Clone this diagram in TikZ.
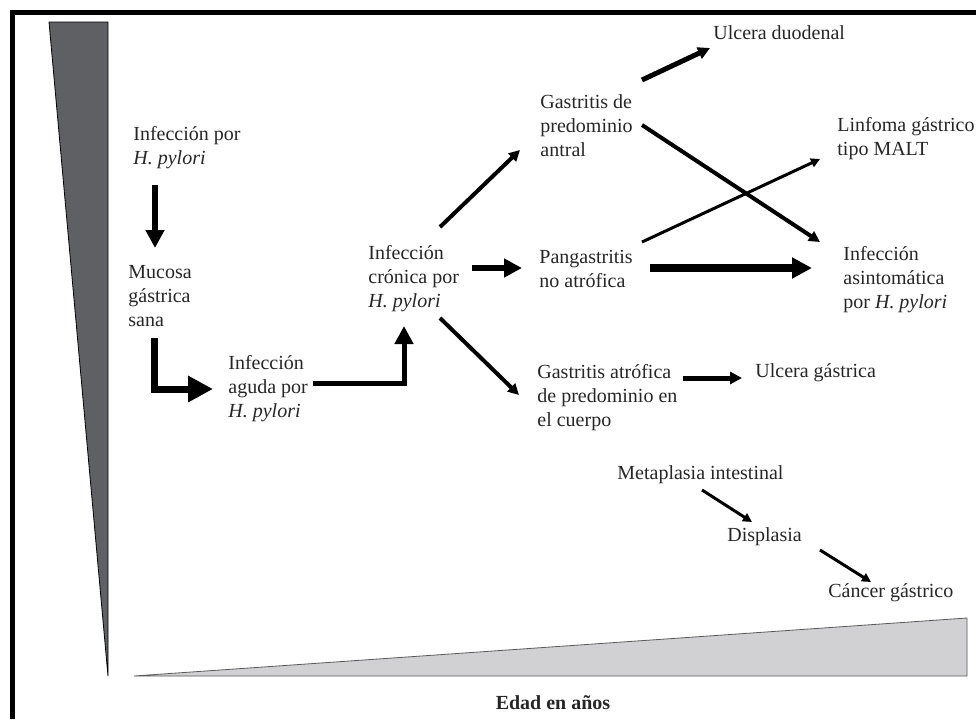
\documentclass[tikz,border=0pt]{standalone}
\usepackage{fontspec}
\setmainfont{Liberation Serif}
\usepackage{tikz}
\usetikzlibrary{positioning}
\usetikzlibrary{arrows.meta}
\definecolor{oscuro}{RGB}{95,96,100}
\definecolor{claro}{RGB}{209,209,211}

\begin{document}
\begin{tikzpicture}[x=0.5pt,y=-0.5pt,
  txt/.style={align=left, anchor=west, inner sep=0pt, text=black!85, font=\fontsize{10}{12}\selectfont},
  fina/.style={line width=1.5pt, -{Triangle[length=4.5pt,width=4.5pt]}},
  media/.style={line width=2pt, -{Triangle[length=5.5pt,width=5.5pt]}},
  gruesa/.style={line width=3pt, -{Triangle[length=9pt,width=9pt]}},
  muygruesa/.style={line width=4pt, -{Triangle[length=10pt,width=10pt]}}]
\useasboundingbox (0,0) rectangle (976,719);
%marco
\draw[line width=2.5pt] (12.5,719) -- (12.5,12) -- (976,12);
\draw[fill=oscuro, thin] (49,22) -- (108,22) -- (108,676) -- cycle;
\draw[fill=claro, draw=black!65, thin] (134,676) -- (967,618) -- (967,676) -- cycle;
\node[txt, anchor=center, font=\fontsize{10}{12}\selectfont\bfseries] (edad) at (553,703) {Edad en años};

\node[txt] (infeccion) at (133,148) {Infección por\\\textit{H. pylori}};
\node[txt] (mucosa) at (128,296) {Mucosa\\gástrica\\sana};
\node[txt] (aguda) at (228,389) {Infección\\aguda por\\\textit{H. pylori}};
\node[txt] (cronica) at (368,279) {Infección\\crónica por\\\textit{H. pylori}};
\node[txt] (antral) at (540,126) {Gastritis de\\predominio\\antral};
\node[txt] (pangas) at (539,269) {Pangastritis\\no atrófica};
\node[txt] (atrofica) at (537,398) {Gastritis atrófica\\de predominio en\\el cuerpo};
\node[txt] (duodenal) at (713,33) {Ulcera duodenal};
\node[txt] (linfoma) at (837,139) {Linfoma gástrico\\tipo MALT};
\node[txt] (asint) at (843,280) {Infección\\asintomática\\por \textit{H. pylori}};
\node[txt] (ugastrica) at (755,373) {Ulcera gástrica};
\node[txt] (metaplasia) at (617,475) {Metaplasia intestinal};
\node[txt] (displasia) at (727,537) {Displasia};
\node[txt] (cancer) at (828,593) {Cáncer gástrico};

\draw[gruesa] ([shift={(22,37)}]infeccion.west) -- ([shift={(27,-48)}]mucosa.west);
\draw[line width=3.5pt, -{Triangle[length=12.5pt,width=12.5pt]}] ([shift={(26,42)}]mucosa.west) |- ([shift={(-15,0)}]aguda.west);
\draw[line width=2.5pt, -{Triangle[length=9pt,width=9pt]}] ([shift={(85,-6)}]aguda.west) -| ([shift={(36,47)}]cronica.west);
\draw[media] ([shift={(72,-52)}]cronica.west) -- ([shift={(-20,24)}]antral.west);
\draw[gruesa] ([shift={(104,-11)}]cronica.west) -- ([shift={(-17,-1)}]pangas.west);
\draw[media] ([shift={(72,39)}]cronica.west) -- ([shift={(-18,-3)}]atrofica.west);
\draw[line width=2.5pt, -{Triangle[length=6pt,width=6pt]}] ([shift={(102,-46)}]antral.west) -- ([shift={(-3,15)}]duodenal.west);
\draw[media] ([shift={(102,-1)}]antral.west) -- ([shift={(-23,-38)}]asint.west);
\draw[fina] ([shift={(103,-27)}]pangas.west) -- ([shift={(-17,20)}]linfoma.west);
\draw[muygruesa] ([shift={(111,-1)}]pangas.west) -- ([shift={(-31,-12)}]asint.west);
\draw[line width=2.5pt, -{Triangle[length=6pt,width=6pt]}] ([shift={(146,-20)}]atrofica.west) -- ([shift={(-13,5)}]ugastrica.west);
\draw[fina] ([shift={(85,15)}]metaplasia.west) -- ([shift={(25,-15)}]displasia.west);
\draw[fina] ([shift={(93,13)}]displasia.west) -- ([shift={(43,-11)}]cancer.west);
\end{tikzpicture}
\end{document}
